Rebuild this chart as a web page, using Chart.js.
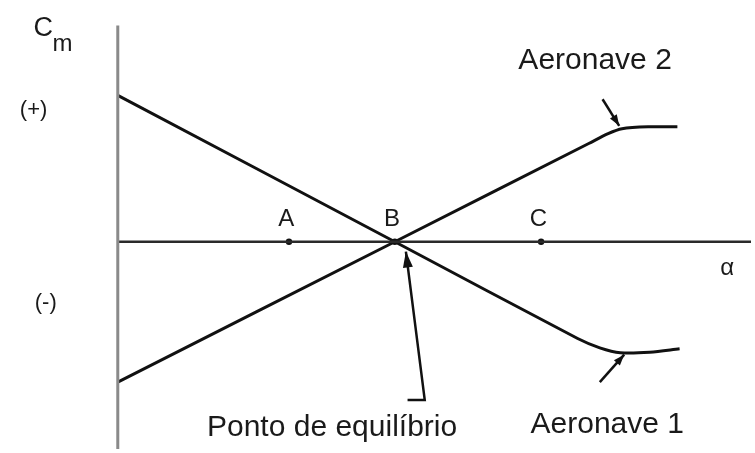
<!DOCTYPE html>
<html>
<head>
<meta charset="utf-8">
<script src="https://cdn.jsdelivr.net/npm/chart.js@4"></script>
<style>
  html, body { margin: 0; padding: 0; background: #fff; }
  #wrap { width: 755px; height: 453px; }
</style>
</head>
<body>
<div id="wrap"><canvas id="cmChart" width="755" height="453"></canvas></div>
<script>
// Aeronave 1 (estável): Cm decresce com alpha
const alpha1 = [0, 5, 8.3, 8.7, 9.07, 9.6, 10.14];
const cm1 = [2.98, 0, -1.97, -2.16, -2.26, -2.25, -2.18];

// Aeronave 2 (instável): Cm cresce com alpha
const alpha2 = [0, 5, 8.5, 8.85, 9.1, 9.6, 10.1];
const cm2 = [-2.86, 0, 2.0, 2.2, 2.3, 2.34, 2.34];

// pontos marcados no eixo alpha
const pointNames = ["A", "B", "C"];
const pointAlpha = [3.09, 5.0, 7.64];

// setas (x, y)
const arrow2X = [8.75, 9.05];
const arrow2Y = [2.9, 2.36];
const arrow1X = [8.7, 9.14];
const arrow1Y = [-2.86, -2.3];
const eqArrowX = [5.23, 5.54, 5.2];
const eqArrowY = [-3.22, -3.22, -0.2];

const xMin = -115 / 56, xMax = 640 / 56;
const yMin = -211 / 50, yMax = 242 / 50;

const xy = (xs, ys) => xs.map((x, i) => ({ x: x, y: ys[i] }));

// textos do desenho
const notes = [
  { t: "Aeronave 2", x: 7.23, y: 3.52, size: 30, align: "left" },
  { t: "Aeronave 1", x: 7.45, y: -3.9, size: 30, align: "left" },
  { t: "Ponto de equilíbrio", x: 1.61, y: -3.96, size: 30, align: "left" },
  { t: "(+)", x: -1.52, y: 2.56, size: 22, align: "center" },
  { t: "(-)", x: -1.3, y: -1.36, size: 22, align: "center" },
  { t: "α", x: 11.0, y: -0.68, size: 24, align: "center" },
  { t: "C", x: -1.52, y: 4.18, size: 27, align: "left" },
  { t: "m", x: -1.18, y: 3.88, size: 24, align: "left" }
];

const drawNotes = {
  id: "drawNotes",
  afterDatasetsDraw(chart) {
    const ctx = chart.ctx;
    const sx = chart.scales.x, sy = chart.scales.y;
    ctx.save();
    ctx.fillStyle = "#1a1a1a";
    ctx.textBaseline = "alphabetic";
    notes.forEach(n => {
      ctx.font = n.size + "px 'Liberation Sans', Arial, sans-serif";
      ctx.textAlign = n.align;
      ctx.fillText(n.t, sx.getPixelForValue(n.x), sy.getPixelForValue(n.y));
    });
    ctx.font = "24px 'Liberation Sans', Arial, sans-serif";
    ctx.textAlign = "center";
    pointNames.forEach((p, i) => {
      ctx.fillText(p, sx.getPixelForValue(pointAlpha[i] - 0.05), sy.getPixelForValue(0.32));
    });

    // pontas das setas
    chart.data.datasets.forEach((ds, di) => {
      if (!ds.arrow) return;
      const pts = chart.getDatasetMeta(di).data;
      const a = pts[pts.length - 2], b = pts[pts.length - 1];
      const ang = Math.atan2(b.y - a.y, b.x - a.x);
      const len = ds.headLen, w = ds.headW;
      ctx.beginPath();
      ctx.moveTo(b.x, b.y);
      ctx.lineTo(b.x - len * Math.cos(ang) + w * Math.sin(ang), b.y - len * Math.sin(ang) - w * Math.cos(ang));
      ctx.lineTo(b.x - len * Math.cos(ang) - w * Math.sin(ang), b.y - len * Math.sin(ang) + w * Math.cos(ang));
      ctx.closePath();
      ctx.fillStyle = "#111";
      ctx.fill();
    });
    ctx.restore();
  }
};

const lineDs = (data, color, width, extra) => Object.assign({
  type: "line",
  data: data,
  borderColor: color,
  borderWidth: width,
  pointRadius: 0,
  fill: false,
  tension: 0
}, extra || {});

new Chart(document.getElementById("cmChart"), {
  type: "scatter",
  data: {
    datasets: [
      lineDs(xy([0, 0], [4.4, yMin]), "#8a8a8a", 3),
      lineDs(xy([0, xMax], [0, 0]), "#2a2a2a", 2.5),
      lineDs(xy(alpha1, cm1), "#111", 3, { tension: 0.3 }),
      lineDs(xy(alpha2, cm2), "#111", 3, { tension: 0.3 }),
      lineDs(xy(arrow2X, arrow2Y), "#111", 2.5, { arrow: true, headLen: 11, headW: 4 }),
      lineDs(xy(arrow1X, arrow1Y), "#111", 2.5, { arrow: true, headLen: 11, headW: 4 }),
      lineDs(xy(eqArrowX, eqArrowY), "#111", 2.5, { arrow: true, headLen: 16, headW: 5 }),
      {
        type: "scatter",
        data: pointAlpha.map(a => ({ x: a, y: 0 })),
        pointRadius: 3.2,
        pointBackgroundColor: "#111",
        pointBorderWidth: 0
      }
    ]
  },
  options: {
    responsive: false,
    devicePixelRatio: 1,
    animation: false,
    layout: { padding: 0 },
    plugins: { legend: { display: false }, tooltip: { enabled: false } },
    scales: {
      x: { type: "linear", min: xMin, max: xMax, display: false },
      y: { type: "linear", min: yMin, max: yMax, display: false }
    }
  },
  plugins: [drawNotes]
});
</script>
</body>
</html>
